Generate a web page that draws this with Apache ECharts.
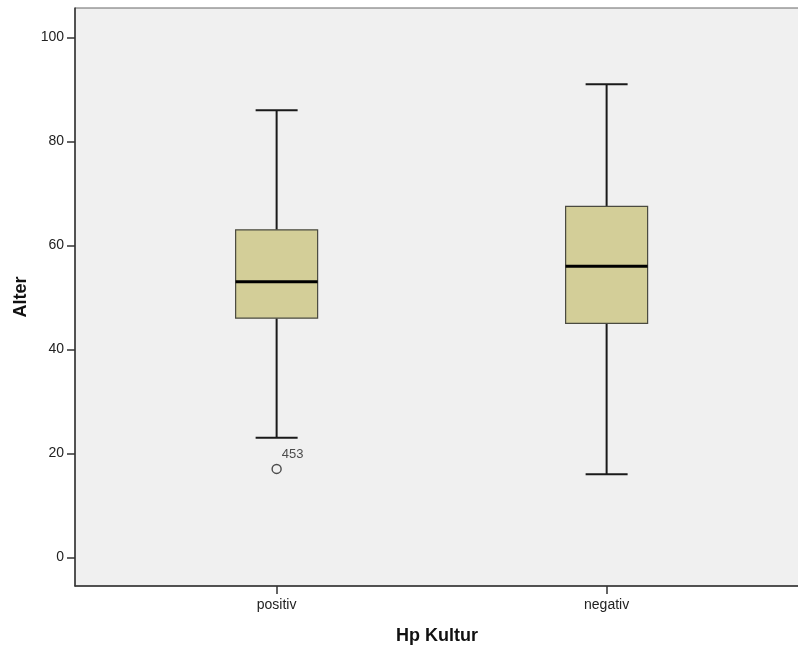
<!DOCTYPE html>
<html>
<head>
<meta charset="utf-8">
<script src="https://cdn.jsdelivr.net/npm/echarts@6/dist/echarts.min.js"></script>
<style>html,body{margin:0;padding:0;background:#fff}#c{width:798px;height:648px}</style>
</head>
<body>
<div id="c"></div>
<script>
var categories = ['positiv', 'negativ'];
// [low whisker, Q1, median, Q3, high whisker]
var boxValues = [
  [23, 46, 53, 63, 86],
  [16, 45, 56, 67.5, 91]
];
var outliers = [[0, 17, '453']];
var yTicks = [0, 20, 40, 60, 80, 100];

var chart = echarts.init(document.getElementById('c'));
var boxData = boxValues.map(function (v, i) { return [i].concat(v); });

function renderBox(params, api) {
  var x = api.value(0);
  var pLow = api.coord([x, api.value(1)]);
  var pQ1 = api.coord([x, api.value(2)]);
  var pMed = api.coord([x, api.value(3)]);
  var pQ3 = api.coord([x, api.value(4)]);
  var pHigh = api.coord([x, api.value(5)]);
  var cx = pMed[0];
  var bw = 82, cw = 42;
  var lineStyle = { stroke: '#1a1a1a', lineWidth: 2 };
  return {
    type: 'group',
    children: [
      { type: 'line', shape: { x1: cx, y1: pHigh[1], x2: cx, y2: pQ3[1] }, style: lineStyle },
      { type: 'line', shape: { x1: cx, y1: pQ1[1], x2: cx, y2: pLow[1] }, style: lineStyle },
      { type: 'line', shape: { x1: cx - cw / 2, y1: pHigh[1], x2: cx + cw / 2, y2: pHigh[1] }, style: lineStyle },
      { type: 'line', shape: { x1: cx - cw / 2, y1: pLow[1], x2: cx + cw / 2, y2: pLow[1] }, style: lineStyle },
      { type: 'rect', shape: { x: cx - bw / 2, y: pQ3[1], width: bw, height: pQ1[1] - pQ3[1] },
        style: { fill: '#d3ce98', stroke: '#4a4a40', lineWidth: 1.2 } },
      { type: 'line', shape: { x1: cx - bw / 2, y1: pMed[1], x2: cx + bw / 2, y2: pMed[1] },
        style: { stroke: '#000', lineWidth: 3 } }
    ]
  };
}

chart.setOption({
  animation: false,
  backgroundColor: '#ffffff',
  grid: {
    left: 75, top: 8, width: 724, bottom: 62,
    containLabel: false, outerBoundsMode: 'none',
    show: true, backgroundColor: '#f0f0f0', borderColor: '#666', borderWidth: 1
  },
  xAxis: {
    type: 'value',
    min: -0.611, max: 1.583,
    name: 'Hp Kultur', nameLocation: 'middle', nameGap: 41,
    nameTextStyle: { fontFamily: 'Liberation Sans, Arial', fontSize: 18, fontWeight: 'bold', color: '#111' },
    splitLine: { show: false },
    axisLine: { show: true, onZero: false, lineStyle: { color: '#333', width: 1.5 } },
    axisTick: { show: true, length: 8, lineStyle: { color: '#333', width: 1.5 }, customValues: [0, 1] },
    axisLabel: {
      customValues: [0, 1], margin: 12,
      fontFamily: 'Liberation Sans, Arial', fontSize: 14, color: '#222',
      formatter: function (v) { return categories[Math.round(v)]; }
    }
  },
  yAxis: {
    type: 'value',
    min: -5.52, max: 105.68,
    name: 'Alter', nameLocation: 'middle', nameGap: 44,
    nameTextStyle: { fontFamily: 'Liberation Sans, Arial', fontSize: 18, fontWeight: 'bold', color: '#111' },
    splitLine: { show: false },
    axisLine: { show: true, onZero: false, lineStyle: { color: '#333', width: 1.5 } },
    axisTick: { show: true, length: 8, lineStyle: { color: '#333', width: 1.5 }, customValues: yTicks },
    axisLabel: {
      customValues: yTicks, margin: 11,
      fontFamily: 'Liberation Sans, Arial', fontSize: 14, color: '#222'
    }
  },
  series: [
    {
      type: 'custom',
      renderItem: renderBox,
      encode: { x: 0, y: [1, 2, 3, 4, 5] },
      data: boxData
    },
    {
      type: 'scatter',
      symbol: 'circle', symbolSize: 9,
      itemStyle: { color: '#f0f0f0', borderColor: '#222', borderWidth: 1.4 },
      label: {
        show: true, position: 'top', distance: 3, offset: [16, 0],
        fontFamily: 'Liberation Sans, Arial', fontSize: 13, color: '#222',
        formatter: function (p) { return p.data[2]; }
      },
      data: outliers
    }
  ]
});
</script>
</body>
</html>
